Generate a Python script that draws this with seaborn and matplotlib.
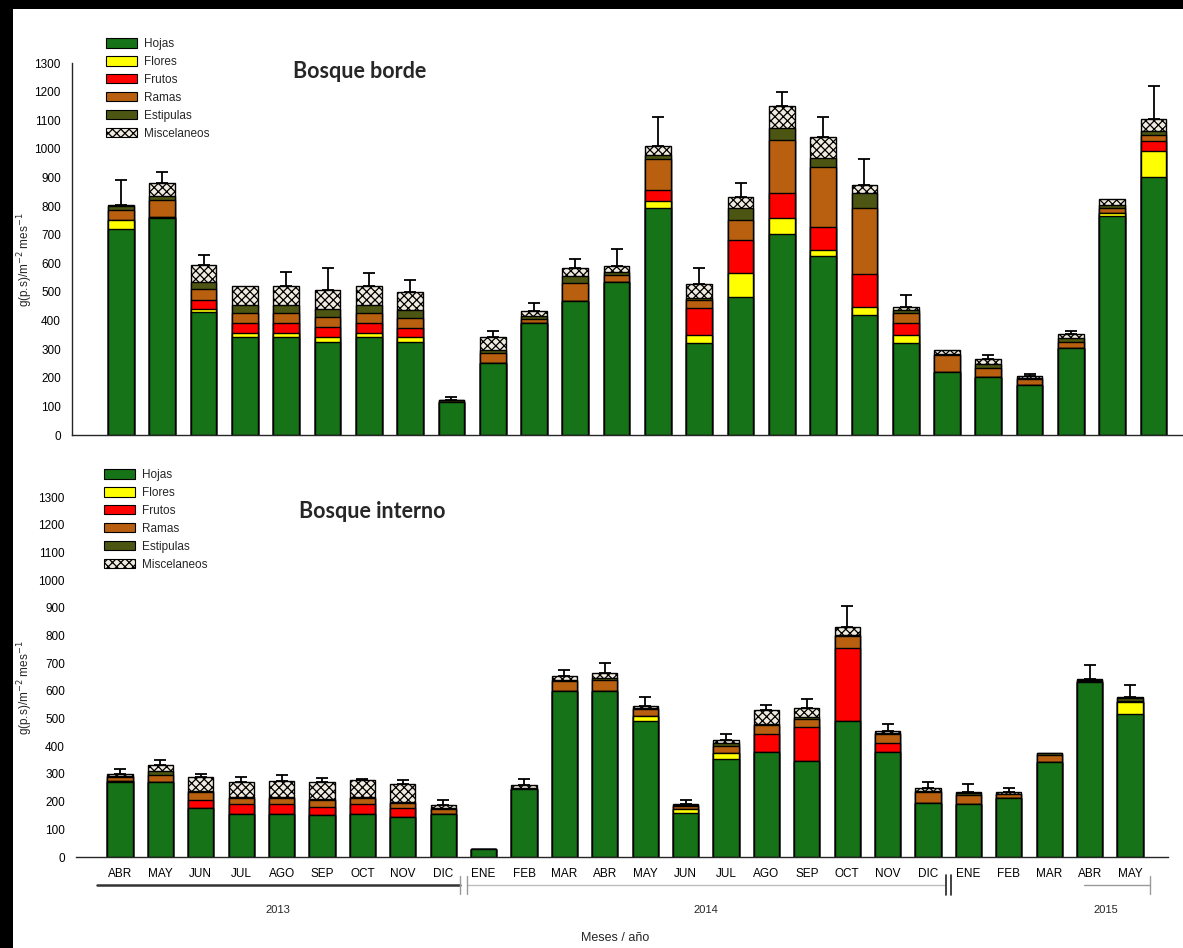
import numpy as np
import pandas as pd
import matplotlib
matplotlib.use("Agg")
import matplotlib.pyplot as plt
from matplotlib.patches import Patch, Rectangle
from matplotlib.lines import Line2D
import matplotlib.transforms as mtransforms
import seaborn as sns

# ---- data -------------------------------------------------------------
months = ["ABR", "MAY", "JUN", "JUL", "AGO", "SEP", "OCT", "NOV", "DIC",
          "ENE", "FEB", "MAR", "ABR", "MAY", "JUN", "JUL", "AGO", "SEP",
          "OCT", "NOV", "DIC", "ENE", "FEB", "MAR", "ABR", "MAY"]
components = ["Hojas", "Flores", "Frutos", "Ramas", "Estipulas", "Miscelaneos"]

# Bosque borde (g p.s. m-2 mes-1)
hojas_borde = [720, 758, 431, 341, 341, 326, 341, 326, 117, 251, 390, 469, 534,
               795, 323, 481, 703, 624, 420, 323, 221, 204, 175, 303, 766, 900]
flores_borde = [30, 5, 8, 14, 14, 15, 14, 15, 0, 0, 0, 0, 0,
                21, 27, 84, 55, 23, 29, 27, 0, 0, 0, 0, 9, 93]
frutos_borde = [0, 0, 33, 38, 38, 38, 38, 32, 0, 0, 0, 0, 0,
                41, 93, 117, 89, 81, 114, 43, 0, 0, 0, 0, 0, 36]
ramas_borde = [35, 59, 37, 32, 32, 35, 32, 35, 0, 35, 14, 61, 25,
               107, 29, 70, 184, 210, 230, 32, 59, 31, 20, 23, 18, 20]
estip_borde = [14, 14, 27, 30, 30, 25, 30, 29, 5, 11, 12, 26, 10,
               15, 8, 41, 41, 29, 54, 12, 3, 12, 3, 12, 11, 12]
misc_borde = [6, 44, 58, 64, 64, 66, 64, 61, 0, 47, 18, 27, 20,
              31, 47, 40, 78, 74, 27, 12, 14, 18, 8, 15, 21, 43]
err_borde = [87, 40, 35, 0, 52, 78, 46, 44, 12, 21, 29, 31, 60,
             100, 56, 47, 50, 69, 91, 41, 0, 15, 6, 12, 0, 114]

# Bosque interno
hojas_interno = [270, 271, 176, 154, 154, 152, 156, 146, 155, 30, 245, 600, 600,
                 490, 160, 354, 380, 345, 490, 378, 195, 190, 212, 342, 632, 515]
flores_interno = [6, 0, 0, 0, 0, 0, 0, 0, 0, 0, 0, 0, 0,
                  18, 15, 20, 0, 0, 0, 0, 0, 0, 0, 0, 0, 45]
frutos_interno = [0, 0, 29, 36, 36, 30, 34, 32, 0, 0, 0, 0, 0,
                  0, 0, 0, 65, 125, 265, 35, 0, 0, 0, 0, 0, 0]
ramas_interno = [14, 26, 30, 22, 22, 24, 22, 17, 20, 0, 0, 35, 40,
                 25, 10, 28, 32, 30, 42, 30, 38, 35, 14, 25, 3, 5]
estip_interno = [4, 12, 5, 5, 5, 5, 5, 5, 3, 0, 4, 5, 5,
                 5, 3, 10, 5, 5, 5, 5, 5, 6, 3, 8, 3, 8]
misc_interno = [6, 23, 49, 55, 56, 60, 60, 65, 10, 0, 10, 12, 18,
                8, 5, 10, 50, 33, 28, 8, 10, 3, 4, 0, 5, 3]
err_interno = [18, 19, 11, 17, 22, 14, 6, 12, 17, 0, 21, 23, 39,
               31, 14, 23, 16, 32, 75, 24, 22, 28, 15, 0, 52, 44]

years = ["2013", "2014", "2015"]

# ---- styling ----------------------------------------------------------
sns.set_theme(style="white")
plt.rcParams["font.family"] = ["Liberation Sans", "DejaVu Sans"]
plt.rcParams["hatch.linewidth"] = 0.9

colors = {
    "Hojas": "#177317",
    "Flores": "#ffff00",
    "Frutos": "#ff0000",
    "Ramas": "#b8600f",
    "Estipulas": "#4d5512",
    "Miscelaneos": "#f1ebdf",
}
BAR_W = 0.62

W, H = 1183, 948
fig = plt.figure(figsize=(W / 100, H / 100), dpi=100)


def fig_rect(left, top, right, bottom):
    return [left / W, 1 - bottom / H, (right - left) / W, (bottom - top) / H]


def stacked_panel(ax, parts, err):
    df = pd.DataFrame(parts, columns=components)
    df["pos"] = np.arange(len(df))
    cum = df[components].cumsum(axis=1)
    # draw cumulative layers from the top segment down so each covers the one above
    for comp in reversed(components):
        kw = dict(hatch="xxxx") if comp == "Miscelaneos" else {}
        sns.barplot(x=df["pos"], y=cum[comp], color=colors[comp], saturation=1,
                    width=BAR_W, edgecolor="black", linewidth=1.0,
                    errorbar=None, ax=ax, **kw)
    total = cum["Miscelaneos"].to_numpy()
    err = np.asarray(err)
    m = err > 0
    ax.errorbar(df["pos"][m], total[m], yerr=[np.zeros(m.sum()), err[m]],
                fmt="none", ecolor="black", elinewidth=1.3, capsize=4,
                capthick=1.3, zorder=5)
    ax.set_ylim(0, 1300)
    ax.set_yticks(np.arange(0, 1301, 100))
    ax.set_xlabel("")
    ax.set_ylabel("")
    for s in ("top", "right"):
        ax.spines[s].set_visible(False)
    ax.tick_params(axis="both", which="both", direction="out", length=5,
                   width=0.8, colors="black", labelsize=8.5, pad=3)


# top panel
ax1 = fig.add_axes(fig_rect(72, 63, 1183, 435))
stacked_panel(ax1, list(zip(hojas_borde, flores_borde, frutos_borde,
                            ramas_borde, estip_borde, misc_borde)), err_borde)
ax1.set_xlim((72 - 121) / 41.3, (1183 - 121) / 41.3)
ax1.set_xticks(np.arange(26))
ax1.set_xticklabels([])
ax1.spines["left"].set_linewidth(1.0)
ax1.spines["bottom"].set_linewidth(1.0)
ax1.set_ylabel("g(p.s)/m$^{-2}$ mes$^{-1}$", fontsize=8.5)
ax1.yaxis.set_label_coords((35 - 72) / 1111, 0.47)

# bottom panel
ax2 = fig.add_axes(fig_rect(76, 497, 1168, 857))
stacked_panel(ax2, list(zip(hojas_interno, flores_interno, frutos_interno,
                            ramas_interno, estip_interno, misc_interno)), err_interno)
ax2.set_xlim((76 - 120) / 40.4, (1168 - 120) / 40.4)
ax2.spines["left"].set_visible(False)
ax2.spines["bottom"].set_linewidth(1.0)
ax2.set_xticks(np.arange(26))
ax2.set_xticklabels(months, fontsize=8.5)
ax2.tick_params(axis="x", length=4, pad=4)
ax2.set_ylabel("g(p.s)/m$^{-2}$ mes$^{-1}$", fontsize=8.5)
ax2.yaxis.set_label_coords((35 - 76) / 1092, 0.47)

# titles
title_font = dict(family=["Lato", "DejaVu Sans"], fontweight="bold", fontsize=15.5)
fig.text(360 / W, 1 - 72 / H, "Bosque borde", ha="center", va="center", **title_font)
fig.text(372 / W, 1 - 512 / H, "Bosque interno", ha="center", va="center", **title_font)

# legends
handles = [Patch(facecolor=colors[c], edgecolor="black", linewidth=0.8,
                 hatch="xxxx" if c == "Miscelaneos" else None) for c in components]
leg_kw = dict(loc="upper left", frameon=False, fontsize=8.5, handlelength=2.6,
              handleheight=0.85, labelspacing=0.5, borderpad=0,
              handletextpad=0.6, borderaxespad=0)
fig.legend(handles, components, bbox_to_anchor=(106 / W, 1 - 38 / H), **leg_kw)
fig.legend(handles, components, bbox_to_anchor=(104 / W, 1 - 469 / H), **leg_kw)

# year brackets under the month axis
tr = mtransforms.blended_transform_factory(ax2.transData, ax2.transAxes)
yb = -0.078
ax2.add_line(Line2D([-0.57, 8.42], [yb, yb], transform=tr, color="#333333",
                    lw=1.8, clip_on=False))
ax2.add_line(Line2D([8.42, 8.42], [yb - 0.025, yb + 0.025], transform=tr,
                    color="#999999", lw=1.0, clip_on=False))
ax2.add_line(Line2D([8.58, 20.4], [yb, yb], transform=tr, color="#bdbdbd",
                    lw=1.0, clip_on=False))
ax2.add_line(Line2D([8.58, 8.58], [yb - 0.025, yb + 0.025], transform=tr,
                    color="#999999", lw=1.0, clip_on=False))
for xx in (20.44, 20.56):
    ax2.add_line(Line2D([xx, xx], [yb - 0.028, yb + 0.028], transform=tr,
                        color="#222222", lw=1.2, clip_on=False))
ax2.add_line(Line2D([23.85, 25.5], [yb, yb], transform=tr, color="#9a9a9a",
                    lw=1.0, clip_on=False))
ax2.add_line(Line2D([25.5, 25.5], [yb - 0.025, yb + 0.025], transform=tr,
                    color="#9a9a9a", lw=1.0, clip_on=False))
for xc, lab in zip([3.9, 14.5, 24.4], years):
    ax2.text(xc, -0.148, lab, transform=tr, ha="center", va="center", fontsize=8)
fig.text(615 / W, 1 - 938 / H, "Meses / año", ha="center", va="center", fontsize=9)

# dark frame edges
fig.add_artist(Rectangle((0, 1 - 9 / H), 1, 9 / H, transform=fig.transFigure,
                         facecolor="black", edgecolor="none", zorder=10))
fig.add_artist(Rectangle((0, 0), 13 / W, 1, transform=fig.transFigure,
                         facecolor="black", edgecolor="none", zorder=10))

fig.savefig("out.png", dpi=100, facecolor="white")
